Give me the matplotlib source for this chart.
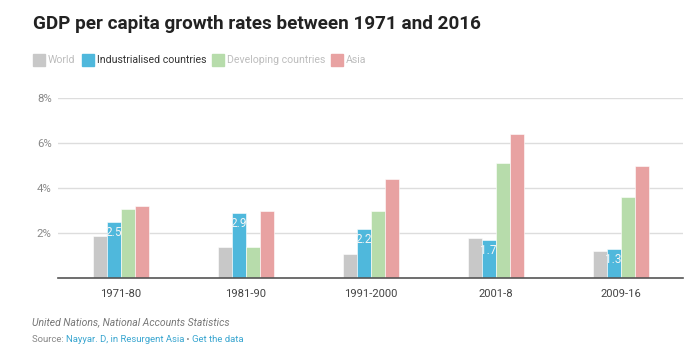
import matplotlib
matplotlib.use("Agg")
import matplotlib.pyplot as plt
from matplotlib.patches import Rectangle
import numpy as np

plt.rcParams['font.family'] = ['Roboto', 'DejaVu Sans']

periods = ["1971-80", "1981-90", "1991-2000", "2001-8", "2009-16"]
series = ["World", "Industrialised countries", "Developing countries", "Asia"]
world = [1.9, 1.4, 1.1, 1.8, 1.2]
industrialised = [2.5, 2.9, 2.2, 1.7, 1.3]
developing = [3.1, 1.4, 3.0, 5.1, 3.6]
asia = [3.2, 3.0, 4.4, 6.4, 5.0]
colours = ["#c8c8c8", "#4fb8dc", "#b7dcab", "#e8a2a2"]
legend_text_col = ["#bdbdbd", "#333333", "#bdbdbd", "#bdbdbd"]

W, H = 695, 355
fig = plt.figure(figsize=(W / 100, H / 100), dpi=100)
ax = fig.add_axes([58 / W, 1 - 278.3 / H, 625 / W, (278.3 - 98.2) / H])

x = np.arange(len(periods))
bw = 0.112
alle = [world, industrialised, developing, asia]
for i, vals in enumerate(alle):
    pos = x + (i - 1.5) * bw
    ax.bar(pos, vals, width=bw, color=colours[i], edgecolor="white",
           linewidth=0.4, zorder=2)
    if i == 1:
        # tall på de blå søylene
        for p, v in zip(pos, vals):
            ax.text(p, v - 0.18, f"{v:.1f}", ha="center", va="top",
                    color="#f4f4f4", fontsize=8.5, zorder=3)

ax.set_xlim(-0.5, len(periods) - 0.5)
ax.set_ylim(0, 8)
ax.set_yticks([2, 4, 6, 8])
ax.set_yticklabels(["2%", "4%", "6%", "8%"])
ax.set_xticks(x)
ax.set_xticklabels(periods)
ax.grid(axis="y", color="#dddddd", linewidth=1, zorder=0)
ax.set_axisbelow(True)
for s in ["top", "right", "left"]:
    ax.spines[s].set_visible(False)
ax.spines["bottom"].set_color("#555555")
ax.spines["bottom"].set_linewidth(1.2)
ax.spines["bottom"].set_zorder(4)
ax.tick_params(axis="y", length=0, pad=4.5, labelsize=8.2, labelcolor="#888888")
ax.tick_params(axis="x", length=0, pad=8, labelsize=8.1, labelcolor="#444444")

# tittel
fig.text(33 / W, 1 - 24 / H, "GDP per capita growth rates between 1971 and 2016",
         fontsize=13.6, fontweight="bold", color="#222222", va="center", ha="left")

# legende
leg_x = [33, 82, 212, 331]
for lx, navn, c, tc in zip(leg_x, series, colours, legend_text_col):
    fig.patches.append(Rectangle((lx / W, 1 - 66 / H), 12 / W, 12 / H,
                                 transform=fig.transFigure, color=c))
    fig.text((lx + 15) / W, 1 - 60 / H, navn, fontsize=7.6, color=tc,
             va="center", ha="left")

# kilde
fig.text(32 / W, 1 - 322 / H, "United Nations, National Accounts Statistics",
         fontsize=7.5, style="italic", color="#777777", va="center", ha="left")

fig.canvas.draw()
r = fig.canvas.get_renderer()
biter = [("Source: ", "#888888"), ("Nayyar. D, in Resurgent Asia", "#3aa6d0"),
         (" \u2022 ", "#888888"), ("Get the data", "#3aa6d0")]
cx = 32
for tekst, c in biter:
    t = fig.text(cx / W, 1 - 339 / H, tekst, fontsize=6.8, color=c,
                 va="center", ha="left")
    cx += t.get_window_extent(r).width

fig.savefig("out.png", dpi=100)
